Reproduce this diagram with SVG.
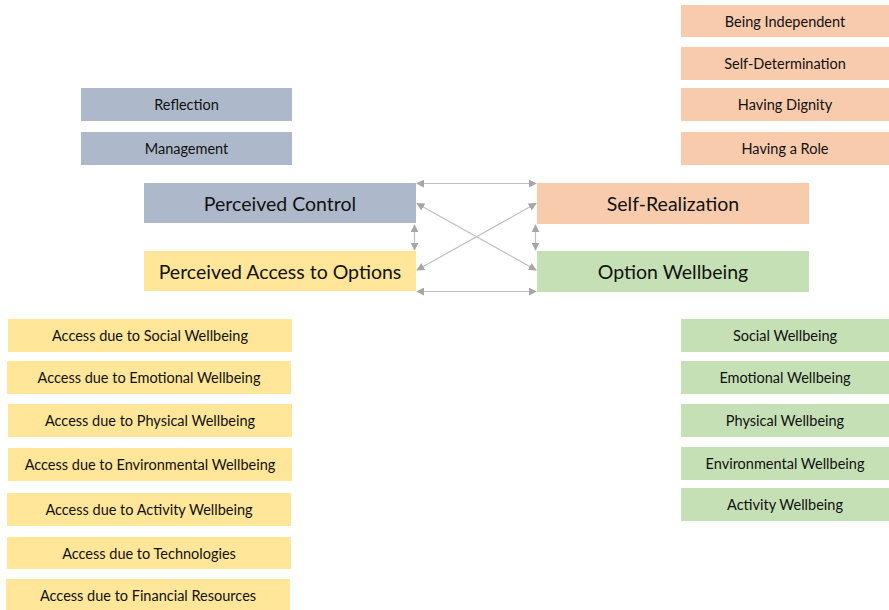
<svg xmlns="http://www.w3.org/2000/svg" width="889" height="610" viewBox="0 0 889 610">
<defs>
<style>
.t{font-family:Lato,"Open Sans","Liberation Sans",sans-serif;fill:#111;text-anchor:middle;dominant-baseline:central}
.s{font-size:14.5px}
.m{font-size:19.5px}
.b{fill:#adb9ca}.o{fill:#f8cbad}.y{fill:#ffe699}.g{fill:#c5e0b4}
.c{stroke:#bfbfbf;stroke-width:1.2;fill:none;marker-start:url(#a);marker-end:url(#a)}
</style>
<marker id="a" viewBox="0 0 10 10" refX="9" refY="5" markerWidth="8" markerHeight="8" markerUnits="userSpaceOnUse" orient="auto-start-reverse">
<path d="M0,0 L10,5 L0,10 Z" fill="#a6a6a6"/>
</marker>
</defs>
<rect width="889" height="610" fill="#fff"/>
<g id="connectors">
<line class="c" x1="417" y1="183.5" x2="536" y2="183.5"/>
<line class="c" x1="417" y1="291.5" x2="536" y2="291.5"/>
<line class="c" x1="414.5" y1="225" x2="414.5" y2="250"/>
<line class="c" x1="535.5" y1="225" x2="535.5" y2="250"/>
<line class="c" x1="417" y1="203.5" x2="536" y2="270"/>
<line class="c" x1="417" y1="270" x2="536" y2="203.5"/>
</g>
<g id="reflection"><rect class="b" x="81" y="88" width="211" height="33"/><text class="t s" x="186.5" y="104.5">Reflection</text></g>
<g id="management"><rect class="b" x="81" y="132" width="211" height="33"/><text class="t s" x="186.5" y="148.5">Management</text></g>
<g id="perceived-control"><rect class="b" x="144" y="183" width="272" height="40"/><text class="t m" x="280" y="203">Perceived Control</text></g>
<g id="perceived-access"><rect class="y" x="144" y="251" width="272" height="40"/><text class="t m" x="280" y="271">Perceived Access to Options</text></g>
<g id="self-realization"><rect class="o" x="537" y="183" width="272" height="41"/><text class="t m" x="673" y="203.5">Self-Realization</text></g>
<g id="option-wellbeing"><rect class="g" x="537" y="251" width="272" height="41"/><text class="t m" x="673" y="271.5">Option Wellbeing</text></g>
<g id="being-independent"><rect class="o" x="681" y="5" width="208" height="32"/><text class="t s" x="785" y="21">Being Independent</text></g>
<g id="self-determination"><rect class="o" x="681" y="47" width="208" height="33"/><text class="t s" x="785" y="63.5">Self-Determination</text></g>
<g id="having-dignity"><rect class="o" x="681" y="88" width="208" height="33"/><text class="t s" x="785" y="104.5">Having Dignity</text></g>
<g id="having-a-role"><rect class="o" x="681" y="132" width="208" height="33"/><text class="t s" x="785" y="148.5">Having a Role</text></g>
<g id="social-wellbeing"><rect class="g" x="681" y="319" width="208" height="33"/><text class="t s" x="785" y="335.5">Social Wellbeing</text></g>
<g id="emotional-wellbeing"><rect class="g" x="681" y="361" width="208" height="33"/><text class="t s" x="785" y="377.5">Emotional Wellbeing</text></g>
<g id="physical-wellbeing"><rect class="g" x="681" y="404" width="208" height="33"/><text class="t s" x="785" y="420.5">Physical Wellbeing</text></g>
<g id="environmental-wellbeing"><rect class="g" x="681" y="447" width="208" height="33"/><text class="t s" x="785" y="463.5">Environmental Wellbeing</text></g>
<g id="activity-wellbeing"><rect class="g" x="681" y="488" width="208" height="33"/><text class="t s" x="785" y="504.5">Activity Wellbeing</text></g>
<g id="access-social"><rect class="y" x="8" y="319" width="284" height="33"/><text class="t s" x="150" y="335.5">Access due to Social Wellbeing</text></g>
<g id="access-emotional"><rect class="y" x="7" y="361" width="284" height="33"/><text class="t s" x="149" y="377.5">Access due to Emotional Wellbeing</text></g>
<g id="access-physical"><rect class="y" x="8" y="404" width="284" height="33"/><text class="t s" x="150" y="420.5">Access due to Physical Wellbeing</text></g>
<g id="access-environmental"><rect class="y" x="8" y="448" width="284" height="33"/><text class="t s" x="150" y="464.5">Access due to Environmental Wellbeing</text></g>
<g id="access-activity"><rect class="y" x="7" y="493" width="284" height="33"/><text class="t s" x="149" y="509.5">Access due to Activity Wellbeing</text></g>
<g id="access-technologies"><rect class="y" x="7" y="537" width="284" height="32"/><text class="t s" x="149" y="553">Access due to Technologies</text></g>
<g id="access-financial"><rect class="y" x="6" y="579" width="284" height="31"/><text class="t s" x="148" y="595.5">Access due to Financial Resources</text></g>
</svg>
